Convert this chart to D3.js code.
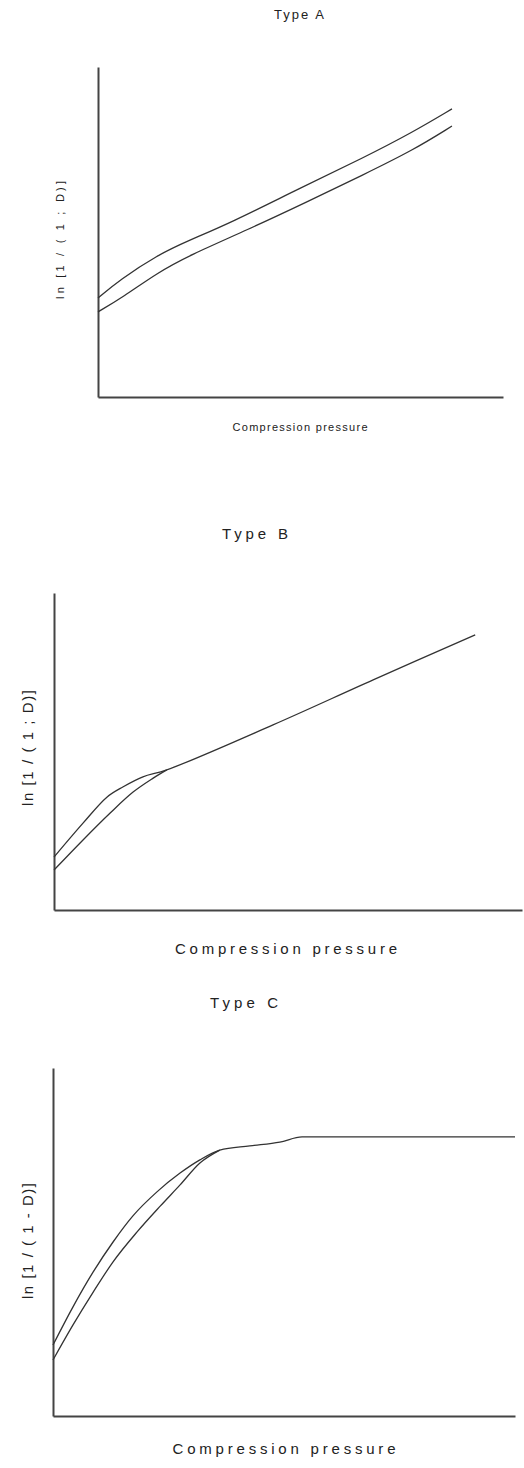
<!DOCTYPE html>
<html>
<head>
<meta charset="utf-8">
<script src="https://cdn.jsdelivr.net/npm/d3@7"></script>
<style>
  body { margin: 0; background: #fff; }
  text { font-family: "Liberation Sans", Arial, sans-serif; fill: #222; }
</style>
</head>
<body>
<svg width="524" height="1468"></svg>
<script>
// values, in axis units (0..100 on both axes)
const upperAx = [0, 5.4, 14.6, 22.7, 32.6, 49.9, 65.4, 77.8, 87.4];
const upperAy = [30.0, 35.5, 43.0, 47.6, 52.7, 63.3, 72.4, 80.3, 87.3];
const lowerAx = [0, 6.2, 14.6, 22.7, 36.8, 51.6, 65.4, 77.8, 87.4];
const lowerAy = [25.8, 30.3, 37.6, 43.0, 50.6, 59.1, 67.3, 74.8, 82.1];

// lower curves of B and C end where they join the upper curve
const upperBx = [0, 6.2, 11.3, 14.7, 19.0, 24.1, 46.8, 68.2, 90.0];
const upperBy = [16.7, 27.4, 35.6, 38.8, 42.0, 44.2, 58.4, 72.6, 86.8];
const lowerBx = [0, 6.2, 12.0, 16.9, 21.2, 24.1];
const lowerBy = [12.6, 22.1, 30.6, 37.2, 41.6, 44.2];

const upperCx = [0, 4.3, 8.7, 13.0, 17.3, 22.5, 27.5, 31.8, 36.1, 42.6, 49.1, 53.9, 100];
const upperCy = [20.4, 31.3, 41.4, 50.0, 57.5, 64.4, 69.8, 73.6, 76.4, 77.6, 78.7, 80.2, 80.2];
const lowerCx = [0, 4.3, 8.7, 13.0, 18.2, 23.2, 27.5, 31.8, 36.1];
const lowerCy = [16.1, 26.1, 35.6, 44.3, 52.9, 60.3, 66.4, 72.7, 76.4];

const titles = ['Type A', 'Type B', 'Type C'];
const xLabel = 'Compression pressure';
const yLabels = ['ln [1 / ( 1 ; D)]', 'ln [1 / ( 1 ; D)]', 'ln [1 / ( 1 - D)]'];

const svg = d3.select('svg');
const zip = (xs, ys) => xs.map((x, i) => ({ x, y: ys[i] }));

const panels = [
  { x0: 98, x1: 503, y0: 397, y1: 67, font: 11, titleFont: 13, curve: d3.curveBasis,
    title: { x: 299, y: 19, len: 50 },
    xl: { x: 300, y: 431, len: 135 },
    yl: { x: 64, y: 240, len: 118 },
    series: [zip(upperAx, upperAy), zip(lowerAx, lowerAy)] },
  { x0: 54, x1: 522, y0: 910, y1: 593, font: 15, titleFont: 15, curve: d3.curveCatmullRom.alpha(0.5),
    title: { x: 255, y: 539, len: 66 },
    xl: { x: 286, y: 954, len: 222 },
    yl: { x: 33, y: 748, len: 116 },
    series: [zip(upperBx, upperBy), zip(lowerBx, lowerBy)] },
  { x0: 53, x1: 515, y0: 1416, y1: 1068, font: 15, titleFont: 15, curve: d3.curveMonotoneX,
    title: { x: 244, y: 1008, len: 68 },
    xl: { x: 284, y: 1454, len: 223 },
    yl: { x: 33, y: 1241, len: 116 },
    series: [zip(upperCx, upperCy), zip(lowerCx, lowerCy)] }
];

panels.forEach((p, i) => {
  const xScale = d3.scaleLinear().domain([0, 100]).range([p.x0, p.x1]);
  const yScale = d3.scaleLinear().domain([0, 100]).range([p.y0, p.y1]);

  const g = svg.append('g');

  g.append('g')
    .attr('transform', `translate(0,${p.y0})`)
    .call(d3.axisBottom(xScale).ticks(0).tickSizeOuter(0));
  g.append('g')
    .attr('transform', `translate(${p.x0},0)`)
    .call(d3.axisLeft(yScale).ticks(0).tickSizeOuter(0));
  g.selectAll('.domain').attr('stroke', '#444').attr('stroke-width', 2);

  const line = d3.line()
    .x(d => xScale(d.x))
    .y(d => yScale(d.y))
    .curve(p.curve);

  g.selectAll('path.curve').data(p.series)
    .enter().append('path')
      .attr('class', 'curve')
      .attr('d', line)
      .attr('fill', 'none')
      .attr('stroke', '#333')
      .attr('stroke-width', 1.3);

  g.append('text')
      .attr('x', p.title.x)
      .attr('y', p.title.y)
      .attr('text-anchor', 'middle')
      .attr('font-size', p.titleFont)
      .attr('textLength', p.title.len)
      .attr('lengthAdjust', 'spacing')
      .text(titles[i]);

  g.append('text')
      .attr('x', p.xl.x)
      .attr('y', p.xl.y)
      .attr('text-anchor', 'middle')
      .attr('font-size', p.font)
      .attr('textLength', p.xl.len)
      .attr('lengthAdjust', 'spacing')
      .text(xLabel);

  g.append('text')
      .attr('transform', `translate(${p.yl.x},${p.yl.y}) rotate(-90)`)
      .attr('text-anchor', 'middle')
      .attr('font-size', p.font)
      .attr('textLength', p.yl.len)
      .attr('lengthAdjust', 'spacing')
      .text(yLabels[i]);
});
</script>
</body>
</html>
